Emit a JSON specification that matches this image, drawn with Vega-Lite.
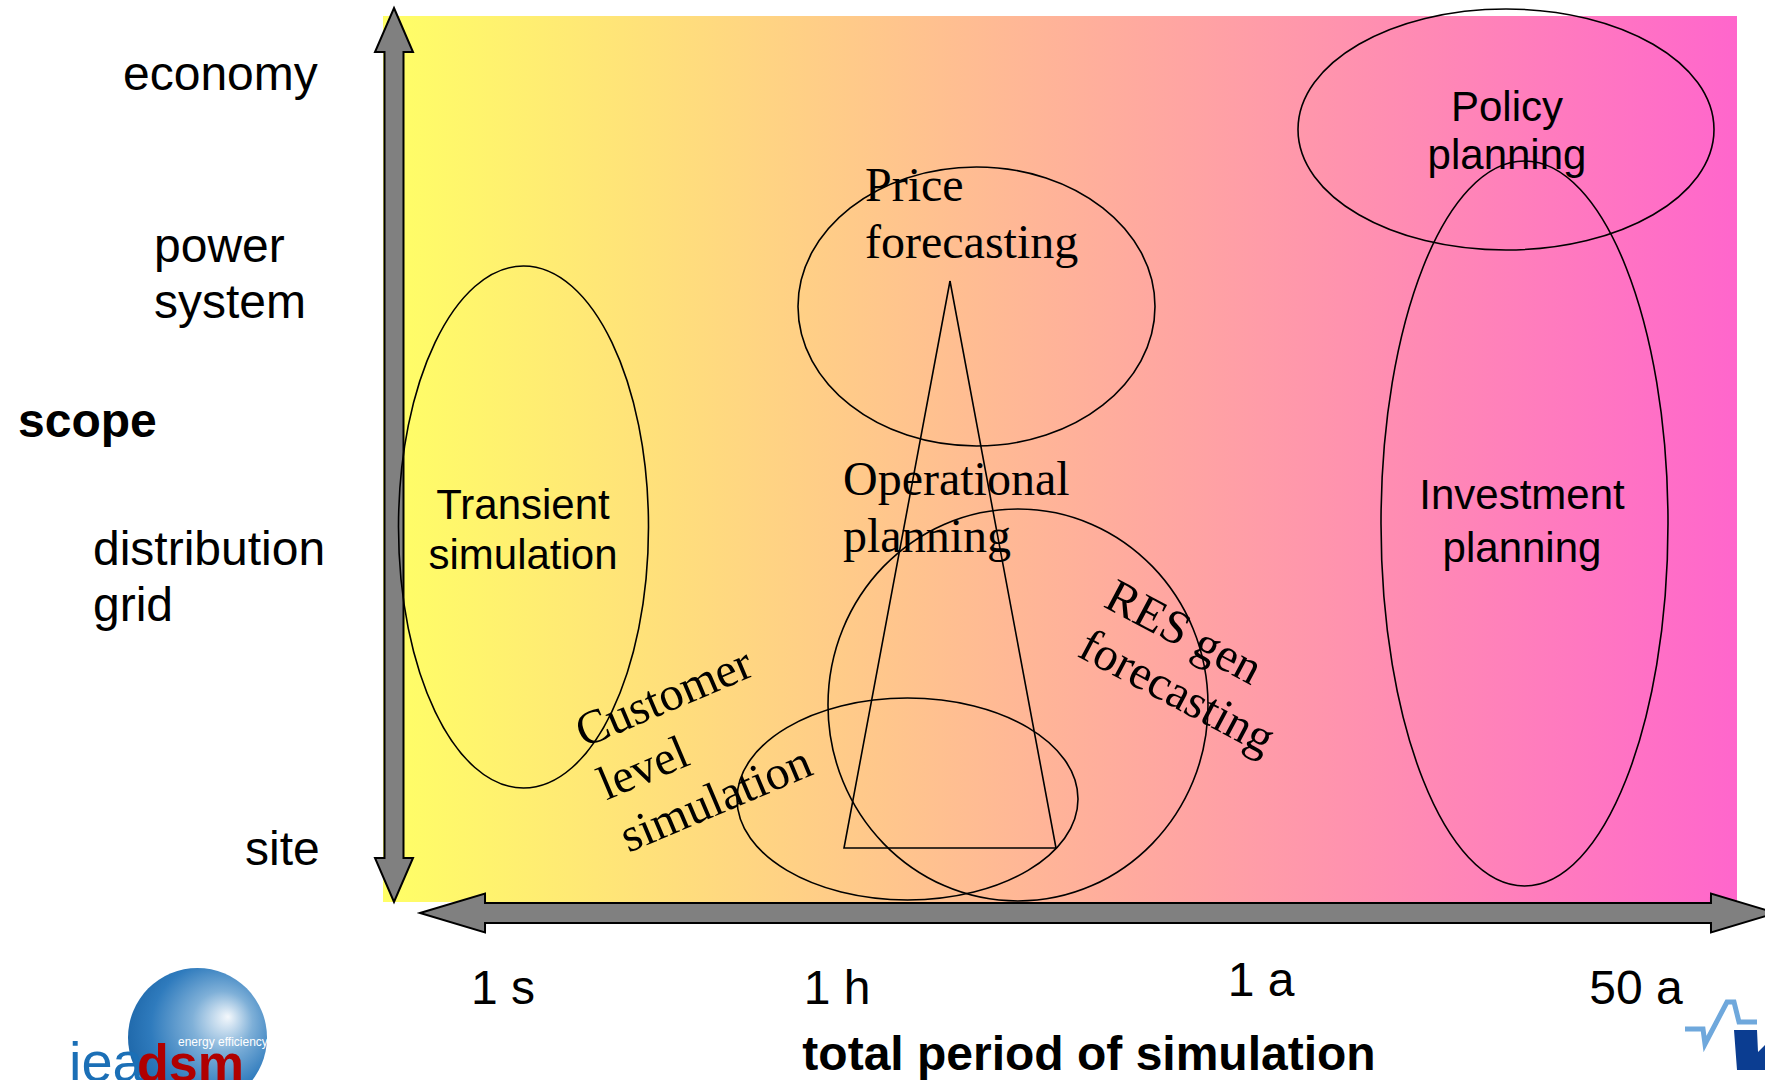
{
  "$schema": "https://vega.github.io/schema/vega-lite/v6.json",
  "width": 1765,
  "height": 1080,
  "autosize": {"type": "none"},
  "padding": 0,
  "background": "white",
  "config": {"view": {"stroke": null}, "font": "Liberation Sans"},
  "encoding": {
    "x": {"field": "x", "type": "quantitative", "scale": {"domain": [0, 1765], "nice": false, "zero": false}, "axis": null},
    "y": {"field": "y", "type": "quantitative", "scale": {"domain": [1080, 0], "nice": false, "zero": false}, "axis": null}
  },
  "layer": [
    {
      "data": {"values": [{"x": 383, "x2": 1737, "y": 16, "y2": 902}]},
      "mark": {"type": "rect", "fill": {"gradient": "linear", "x1": 0, "y1": 0, "x2": 1, "y2": 0, "stops": [{"offset": 0, "color": "#ffff66"}, {"offset": 1, "color": "#ff66cc"}]}},
      "encoding": {"x2": {"field": "x2"}, "y2": {"field": "y2"}}
    },
    {
      "data": {"values": [{"x": 394, "y": 455}]},
      "mark": {"type": "point", "shape": "M0,-1L0.0425,-0.9016L0.02125,-0.9016L0.02125,0.9016L0.0425,0.9016L0,1L-0.0425,0.9016L-0.02125,0.9016L-0.02125,-0.9016L-0.0425,-0.9016Z", "size": 799236, "filled": true, "fill": "#808080", "stroke": "black", "strokeWidth": 2, "opacity": 1}
    },
    {
      "data": {"values": [{"x": 1098, "y": 913}]},
      "mark": {"type": "point", "shape": "M-1,0L-0.9041,-0.02876L-0.9041,-0.01475L0.9041,-0.01475L0.9041,-0.02876L1,0L0.9041,0.02876L0.9041,0.01475L-0.9041,0.01475L-0.9041,0.02876Z", "size": 1838736, "filled": true, "fill": "#808080", "stroke": "black", "strokeWidth": 2, "opacity": 1}
    },
    {
      "data": {"values": [
        {"name": "Transient simulation", "x": 523.5, "y": 527},
        {"name": "Price forecasting", "x": 976.5, "y": 306.5},
        {"name": "Policy planning", "x": 1506, "y": 129.5},
        {"name": "Investment planning", "x": 1524.5, "y": 523.5},
        {"name": "Operational planning", "x": 1018, "y": 705},
        {"name": "Customer level simulation", "x": 907.5, "y": 799}
      ]},
      "mark": {"type": "point", "size": 640000, "filled": false, "stroke": "black", "strokeWidth": 1.6, "opacity": 1},
      "encoding": {
        "shape": {
          "field": "name", "type": "nominal", "legend": null,
          "scale": {
            "domain": ["Transient simulation", "Price forecasting", "Policy planning", "Investment planning", "Operational planning", "Customer level simulation"],
            "range": [
              "M-0.3125,0A0.3125,0.6525 0 1,0 0.3125,0A0.3125,0.6525 0 1,0 -0.3125,0Z",
              "M-0.44625,0A0.44625,0.34875 0 1,0 0.44625,0A0.44625,0.34875 0 1,0 -0.44625,0Z",
              "M-0.52,0A0.52,0.30125 0 1,0 0.52,0A0.52,0.30125 0 1,0 -0.52,0Z",
              "M-0.35875,0A0.35875,0.90625 0 1,0 0.35875,0A0.35875,0.90625 0 1,0 -0.35875,0Z",
              "M-0.475,0A0.475,0.49 0 1,0 0.475,0A0.475,0.49 0 1,0 -0.475,0Z",
              "M-0.42625,0A0.42625,0.2525 0 1,0 0.42625,0A0.42625,0.2525 0 1,0 -0.42625,0Z"
            ]
          }
        }
      }
    },
    {
      "data": {"values": [{"x": 950, "y": 281, "o": 0}, {"x": 844, "y": 848, "o": 1}, {"x": 1056, "y": 848, "o": 2}, {"x": 950, "y": 281, "o": 3}]},
      "mark": {"type": "line", "color": "black", "strokeWidth": 1.6},
      "encoding": {"order": {"field": "o", "type": "quantitative"}}
    },
    {
      "data": {"values": [
        {"t": "economy", "x": 123, "y": 90},
        {"t": "power\nsystem", "x": 154, "y": 262},
        {"t": "distribution\ngrid", "x": 93, "y": 565},
        {"t": "site", "x": 245, "y": 865}
      ]},
      "mark": {"type": "text", "font": "Liberation Sans", "fontSize": 48, "align": "left", "baseline": "alphabetic", "lineBreak": "\n", "lineHeight": 56, "color": "black"},
      "encoding": {"text": {"field": "t", "type": "nominal"}}
    },
    {
      "data": {"values": [{"t": "scope", "x": 18, "y": 437}]},
      "mark": {"type": "text", "font": "Liberation Sans", "fontSize": 48, "fontWeight": "bold", "align": "left", "baseline": "alphabetic", "color": "black"},
      "encoding": {"text": {"field": "t", "type": "nominal"}}
    },
    {
      "data": {"values": [{"t": "total period of simulation", "x": 1089, "y": 1070}]},
      "mark": {"type": "text", "font": "Liberation Sans", "fontSize": 48, "fontWeight": "bold", "align": "center", "baseline": "alphabetic", "color": "black"},
      "encoding": {"text": {"field": "t", "type": "nominal"}}
    },
    {
      "data": {"values": [
        {"t": "1 s", "x": 503, "y": 1004},
        {"t": "1 h", "x": 837, "y": 1004},
        {"t": "1 a", "x": 1261, "y": 996},
        {"t": "50 a", "x": 1636, "y": 1004}
      ]},
      "mark": {"type": "text", "font": "Liberation Sans", "fontSize": 48, "align": "center", "baseline": "alphabetic", "color": "black"},
      "encoding": {"text": {"field": "t", "type": "nominal"}}
    },
    {
      "data": {"values": [{"t": "Transient\nsimulation", "x": 523, "y": 519}]},
      "mark": {"type": "text", "font": "Liberation Sans", "fontSize": 42, "align": "center", "baseline": "alphabetic", "lineBreak": "\n", "lineHeight": 50, "color": "black"},
      "encoding": {"text": {"field": "t", "type": "nominal"}}
    },
    {
      "data": {"values": [{"t": "Investment\nplanning", "x": 1522, "y": 509}]},
      "mark": {"type": "text", "font": "Liberation Sans", "fontSize": 42, "align": "center", "baseline": "alphabetic", "lineBreak": "\n", "lineHeight": 53, "color": "black"},
      "encoding": {"text": {"field": "t", "type": "nominal"}}
    },
    {
      "data": {"values": [{"t": "Policy\nplanning", "x": 1507, "y": 121}]},
      "mark": {"type": "text", "font": "Liberation Sans", "fontSize": 42, "align": "center", "baseline": "alphabetic", "lineBreak": "\n", "lineHeight": 48, "color": "black"},
      "encoding": {"text": {"field": "t", "type": "nominal"}}
    },
    {
      "data": {"values": [
        {"t": "Price\nforecasting", "x": 865, "y": 201},
        {"t": "Operational\nplanning", "x": 843, "y": 495}
      ]},
      "mark": {"type": "text", "font": "Liberation Serif", "fontSize": 48, "align": "left", "baseline": "alphabetic", "lineBreak": "\n", "lineHeight": 57, "color": "black"},
      "encoding": {"text": {"field": "t", "type": "nominal"}}
    },
    {
      "data": {"values": [{"t": "Customer\nlevel\nsimulation", "x": 584, "y": 748}]},
      "mark": {"type": "text", "font": "Liberation Serif", "fontSize": 48, "align": "left", "baseline": "alphabetic", "lineBreak": "\n", "lineHeight": 57, "angle": 337, "color": "black"},
      "encoding": {"text": {"field": "t", "type": "nominal"}}
    },
    {
      "data": {"values": [{"t": "RES gen\nforecasting", "x": 1102, "y": 606}]},
      "mark": {"type": "text", "font": "Liberation Serif", "fontSize": 48, "align": "left", "baseline": "alphabetic", "lineBreak": "\n", "lineHeight": 56, "angle": 28, "color": "black"},
      "encoding": {"text": {"field": "t", "type": "nominal"}}
    },
    {
      "data": {"values": [{"x": 197.5, "y": 1037.5}]},
      "mark": {"type": "point", "shape": "circle", "size": 19321, "filled": true, "opacity": 1, "strokeWidth": 0,
        "fill": {"gradient": "radial", "x1": 0.72, "y1": 0.35, "r1": 0, "x2": 0.6, "y2": 0.45, "r2": 0.62, "stops": [{"offset": 0, "color": "#f4f8fc"}, {"offset": 0.35, "color": "#7fb0d8"}, {"offset": 0.75, "color": "#2f7bbd"}, {"offset": 1, "color": "#1f68aa"}]}}
    },
    {
      "data": {"values": [{"t": "iea", "x": 69, "y": 1081}]},
      "mark": {"type": "text", "font": "Liberation Sans", "fontSize": 56, "align": "left", "baseline": "alphabetic", "color": "#1b6fb6"},
      "encoding": {"text": {"field": "t", "type": "nominal"}}
    },
    {
      "data": {"values": [{"t": "dsm", "x": 137, "y": 1081}]},
      "mark": {"type": "text", "font": "Liberation Sans", "fontSize": 52, "fontWeight": "bold", "align": "left", "baseline": "alphabetic", "color": "#b00000"},
      "encoding": {"text": {"field": "t", "type": "nominal"}}
    },
    {
      "data": {"values": [{"t": "energy efficiency", "x": 178, "y": 1046}]},
      "mark": {"type": "text", "font": "Liberation Sans", "fontSize": 12, "align": "left", "baseline": "alphabetic", "color": "white"},
      "encoding": {"text": {"field": "t", "type": "nominal"}}
    },
    {
      "data": {"values": [
        {"x": 1685, "y": 1029, "o": 0}, {"x": 1703, "y": 1029, "o": 1}, {"x": 1705, "y": 1044, "o": 2},
        {"x": 1727, "y": 1002, "o": 3}, {"x": 1734, "y": 1002, "o": 4}, {"x": 1739, "y": 1022, "o": 5}, {"x": 1757, "y": 1022, "o": 6}
      ]},
      "mark": {"type": "line", "color": "#6fa8dc", "strokeWidth": 5},
      "encoding": {"order": {"field": "o", "type": "quantitative"}}
    },
    {
      "data": {"values": [{"x": 1750, "y": 1050}]},
      "mark": {"type": "point", "shape": "M-0.8,-1L0.35,-1L0.4,0.1L0.75,-0.25L1.5,-0.25L1.5,1L-0.65,1Z", "size": 1600, "filled": true, "fill": "#0b3d91", "strokeWidth": 0, "opacity": 1}
    }
  ]
}
